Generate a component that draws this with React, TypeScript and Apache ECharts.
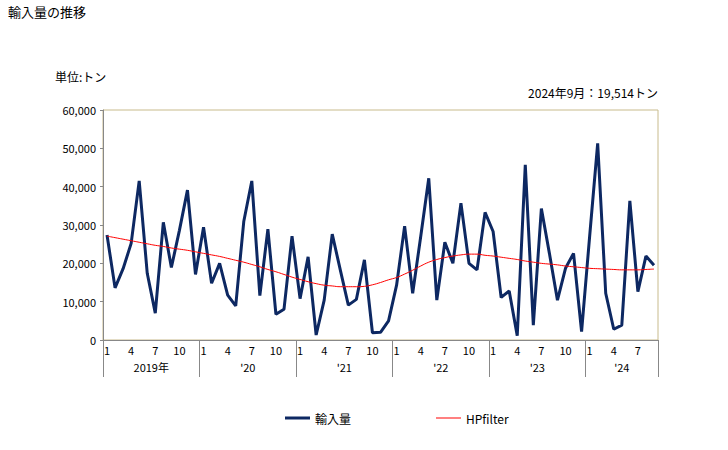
import React, { useEffect, useRef } from "react";
import * as echarts from "echarts";

const years = [2019, 2020, 2021, 2022, 2023, 2024];
const monthsPerYear = [12, 12, 12, 12, 12, 9];
const yearLabels = ["2019年", "'20", "'21", "'22", "'23", "'24"];

const imports = [
  27400, 13600, 18600, 25200, 41500, 17400, 7000, 30700, 18900, 28600, 39100, 17100,
  29400, 14800, 20000, 11700, 8900, 30900, 41500, 11600, 28900, 6700, 8000, 27100,
  10800, 21700, 1300, 10400, 27600, 18300, 9100, 10600, 20900, 1900, 2000, 5000,
  14300, 29700, 12200, 27000, 42200, 10400, 25500, 20000, 35700, 20000, 18300, 33300,
  28300, 11100, 12800, 1100, 45700, 3900, 34300, 22600, 10400, 18700, 22600, 2200,
  27000, 51300, 12200, 2800, 3900, 36300, 12600, 21900, 19514,
];

const hpFilter = [
  27100, 26700, 26300, 25900, 25500, 25100, 24700, 24400, 24000, 23700, 23400, 23000,
  22600, 22200, 21800, 21300, 20800, 20300, 19700, 19100, 18400, 17800, 17100, 16400,
  15800, 15200, 14700, 14300, 14100, 13900, 13900, 13900, 14000, 14400, 15000, 15700,
  16300, 17200, 18200, 19300, 20300, 21000, 21500, 21900, 22200, 22400, 22400, 22100,
  21900, 21600, 21300, 21000, 20600, 20300, 20000, 19800, 19600, 19300, 19100, 18900,
  18700, 18600, 18500, 18400, 18300, 18300, 18300, 18400, 18500,
];

const categories: string[] = [];
years.forEach((y, i) => {
  for (let m = 1; m <= monthsPerYear[i]; m++) categories.push(`${y}/${m}`);
});

const yearBounds: number[] = [0];
monthsPerYear.forEach((n, i) => yearBounds.push(yearBounds[i] + n));
const yearCenters = monthsPerYear.map((n, i) => yearBounds[i] + n / 2);

const FONT = "'Noto Sans CJK JP', 'Noto Sans', sans-serif";

export default function App() {
  const ref = useRef<HTMLDivElement>(null);
  useEffect(() => {
    if (!ref.current) return;
    const chart = echarts.init(ref.current, null, { renderer: "svg" });
    chart.setOption({
      animation: false,
      textStyle: { fontFamily: FONT, color: "#000" },
      grid: {
        left: 103,
        top: 110,
        right: 70,
        bottom: 110,
        show: true,
        borderColor: "#c8bb8c",
        borderWidth: 1,
        backgroundColor: "transparent",
      },
      graphic: [
        { type: "text", left: 8, top: 5, style: { text: "輸入量の推移", font: `13px ${FONT}`, fill: "#000" } },
        { type: "text", left: 55, top: 70, style: { text: "単位:トン", font: `12px ${FONT}`, fill: "#000" } },
        { type: "text", right: 70, top: 86, style: { text: "2024年9月：19,514トン", font: `12px ${FONT}`, fill: "#000" } },
      ],
      legend: {
        left: 280,
        top: 407,
        itemGap: 85,
        itemWidth: 25,
        itemHeight: 14,
        textStyle: { fontFamily: FONT, fontSize: 12, color: "#000" },
        data: [
          { name: "輸入量", icon: "path://M0,0H25V3H0Z" },
          { name: "HPfilter", icon: "path://M0,0H25V1H0Z" },
        ],
      },
      xAxis: [
        {
          type: "category",
          data: categories,
          boundaryGap: true,
          position: "bottom",
          axisLine: { show: true, lineStyle: { color: "#888", width: 1 } },
          axisTick: { show: false },
          axisLabel: {
            interval: (i: number) => i % 3 === 0,
            formatter: (v: string) => v.split("/")[1],
            fontSize: 11,
            color: "#000",
            margin: 4,
            fontFamily: FONT,
          },
          splitLine: { show: false },
        },
        {
          type: "value",
          min: 0,
          max: yearBounds[yearBounds.length - 1],
          position: "bottom",
          axisLine: { show: false },
          axisTick: {
            show: true,
            customValues: yearBounds,
            length: 37,
            lineStyle: { color: "#888" },
          },
          axisLabel: {
            show: true,
            customValues: yearCenters,
            formatter: (v: number) => {
              const idx = yearCenters.findIndex((c) => Math.abs(c - v) < 0.01);
              return idx >= 0 ? yearLabels[idx] : "";
            },
            margin: 21,
            fontSize: 11,
            color: "#000",
            fontFamily: FONT,
          },
          splitLine: { show: false },
        },
      ],
      yAxis: {
        type: "value",
        min: 0,
        max: 60000,
        interval: 10000,
        axisLine: { show: true, lineStyle: { color: "#888" } },
        axisTick: { show: true, length: 3, lineStyle: { color: "#888" } },
        axisLabel: {
          formatter: (v: number) => v.toLocaleString("en-US"),
          fontSize: 11,
          color: "#000",
          margin: 7,
          fontFamily: FONT,
        },
        splitLine: { show: false },
      },
      series: [
        {
          name: "輸入量",
          type: "line",
          data: imports,
          xAxisIndex: 0,
          showSymbol: false,
          symbol: "none",
          lineStyle: { color: "#0d2862", width: 3 },
          itemStyle: { color: "#0d2862" },
        },
        {
          name: "HPfilter",
          type: "line",
          data: hpFilter,
          xAxisIndex: 0,
          showSymbol: false,
          symbol: "none",
          smooth: true,
          lineStyle: { color: "#ff0000", width: 1 },
          itemStyle: { color: "#ff0000" },
        },
      ],
    });
    return () => chart.dispose();
  }, []);
  return <div ref={ref} style={{ width: 728, height: 450, position: "absolute", left: 0, top: 0 }} />;
}
